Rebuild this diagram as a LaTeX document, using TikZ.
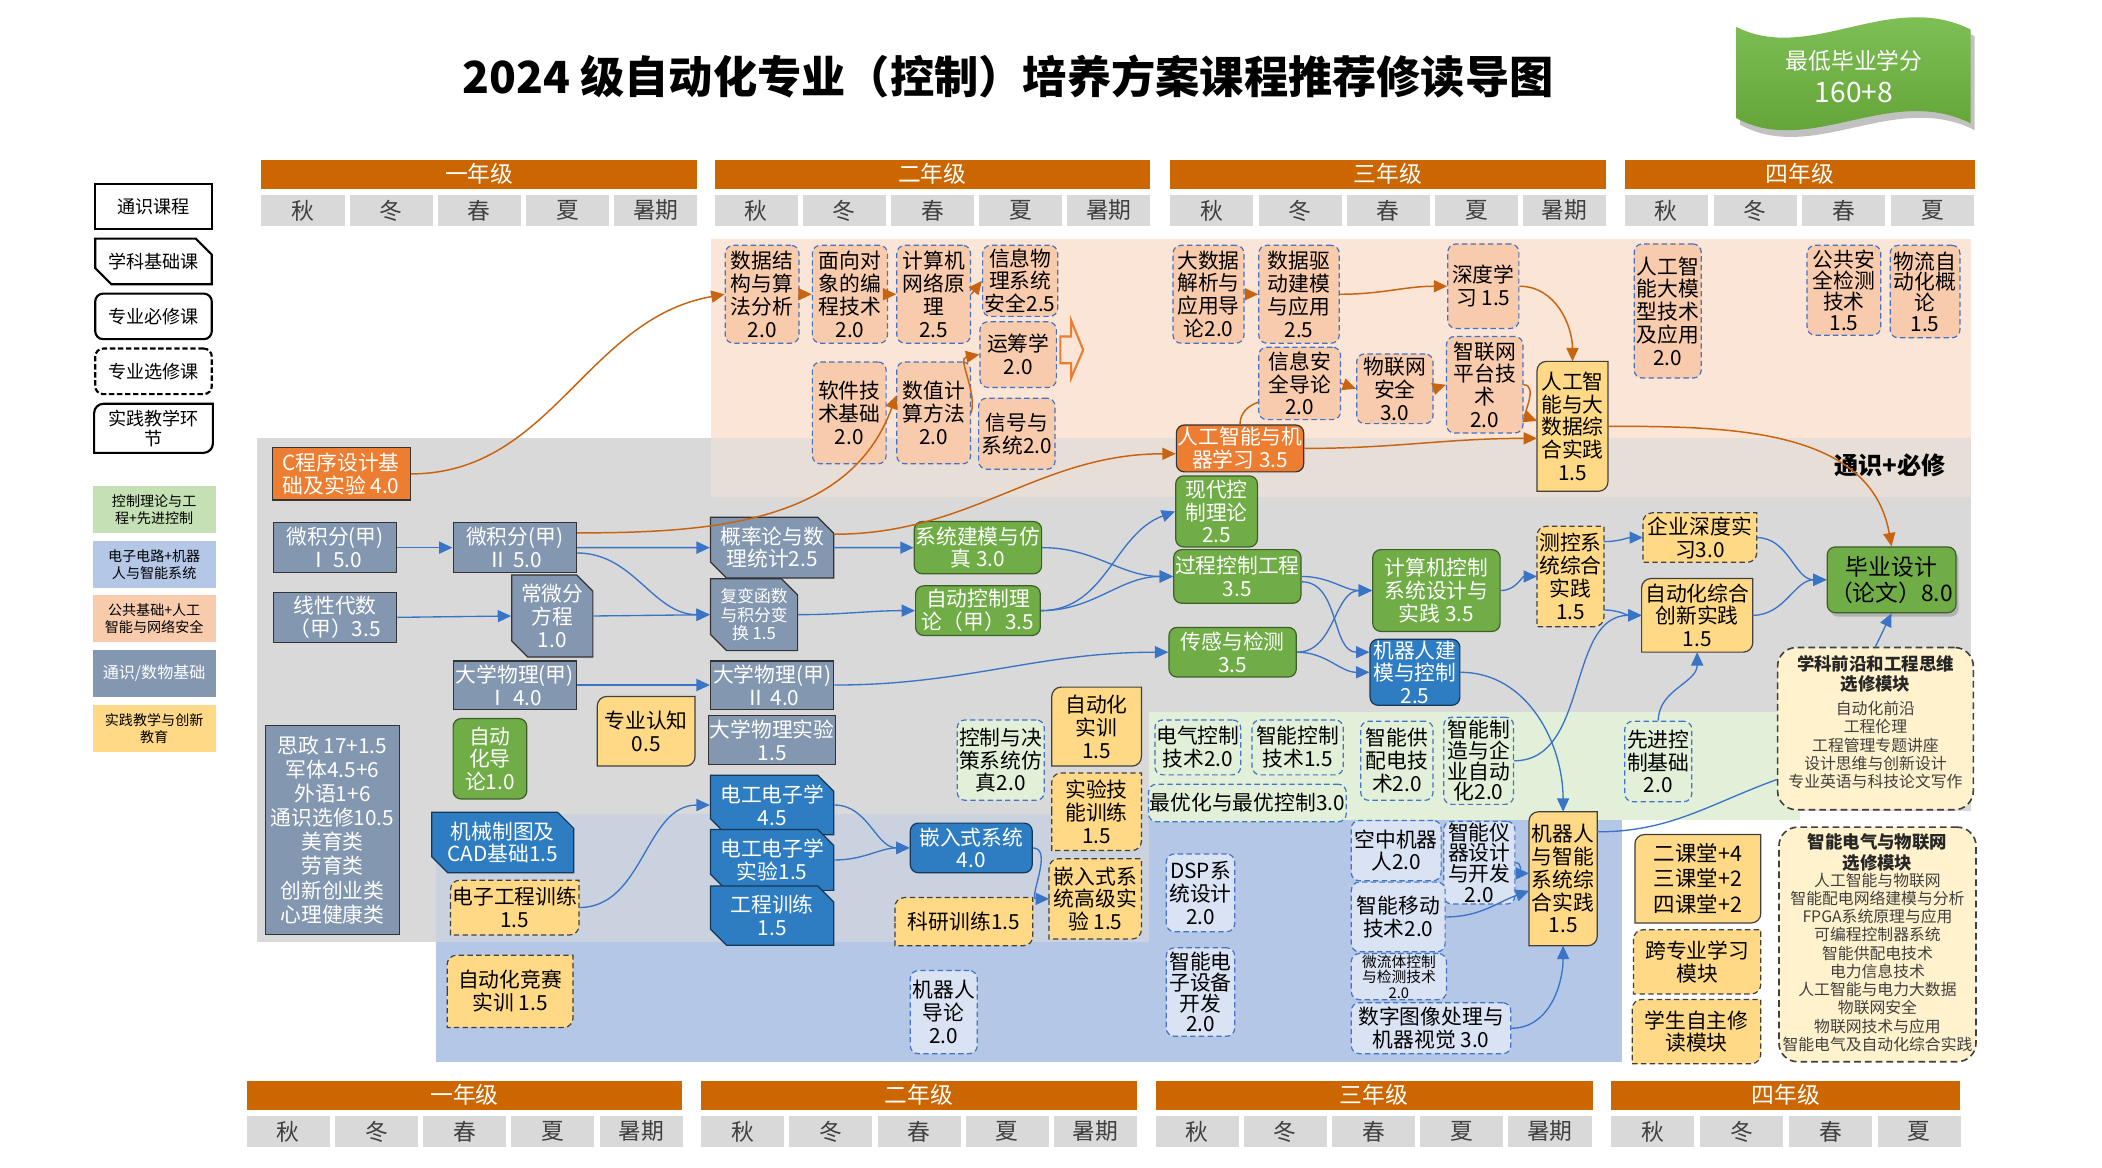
\documentclass[tikz,border=0pt]{standalone}
\usepackage{fontspec}
\setmainfont{Noto Sans CJK SC}
\usetikzlibrary{arrows.meta,positioning,shapes.misc,shadows}
\definecolor{yearor}{HTML}{CC6600}
\definecolor{seasong}{HTML}{D9D9D9}
\definecolor{seasontx}{HTML}{404040}
\definecolor{bandgray}{HTML}{D9D9D9}
\definecolor{bandpeach}{HTML}{FBE5D6}
\definecolor{bandgreen}{HTML}{E2F0D9}
\definecolor{bandblue}{HTML}{B4C7E7}
\definecolor{tsfill}{HTML}{8497B0}
\definecolor{orfill}{HTML}{ED7D31}
\definecolor{grfill}{HTML}{70AD47}
\definecolor{blfill}{HTML}{2E7DC2}
\definecolor{pkfill}{HTML}{F8CBAD}
\definecolor{lbfill}{HTML}{DAE3F3}
\definecolor{lgfill}{HTML}{E2F0D9}
\definecolor{ylfill}{HTML}{FFD985}
\definecolor{crfill}{HTML}{FFF2CC}
\definecolor{dashbl}{HTML}{4472C4}
\definecolor{arrbl}{HTML}{3A74C6}
\definecolor{arror}{HTML}{C8640F}
\definecolor{lgleg}{HTML}{C5E0B4}
\definecolor{banhi}{HTML}{84C55C}
\definecolor{banlo}{HTML}{5E9E32}
\newcommand{\crsfont}{\fontsize{15.5}{17}\selectfont}
\newcommand{\smfont}{\fontsize{12.5}{14}\selectfont}
\newcommand{\modfont}{\fontsize{11.8}{13.6}\selectfont}
% outline with rounded top-left and bottom-right corners
\newcommand{\sjshape}[2][]{%
  \draw[#1] (#2.west) [rounded corners=7pt] -- (#2.north west) -- (#2.north)
    [sharp corners] -- (#2.north east) -- (#2.east)
    [rounded corners=7pt] -- (#2.south east) -- (#2.south)
    [sharp corners] -- (#2.south west) -- cycle;}
\pgfdeclarelayer{bg}
\pgfdeclarelayer{mid}
\pgfsetlayers{bg,mid,main}
\tikzset{
  cbase/.style={align=center,inner sep=1pt,font=\crsfont,line width=0.9pt},
  tsbox/.style={cbase,draw=black!80,fill=tsfill,text=white},
  jcbox/.style={tsbox,chamfered rectangle,chamfered rectangle corners={north east,south west},
    chamfered rectangle xsep=6pt,chamfered rectangle ysep=6pt},
  bjcbox/.style={jcbox,fill=blfill,draw=blfill!45!black},
  orbox/.style={cbase,draw=black!80,fill=orfill,text=white},
  grbox/.style={cbase,rounded corners=6pt,draw=grfill!55!black,fill=grfill,text=white},
  blbox/.style={grbox,draw=blfill!45!black,fill=blfill},
  xxbox/.style={cbase,rounded corners=6pt,draw=dashbl,dash pattern=on 4pt off 2.5pt,fill=pkfill},
  xxg/.style={xxbox,fill=lgfill},
  xxb/.style={xxbox,fill=lbfill},
  tight/.style={font=\fontsize{15.5}{15.5}\selectfont},
  sjbox/.style={cbase,text=black},
  sjline/.style={draw=black!75,fill=ylfill,line width=0.9pt},
  sjdash/.style={sjline,dash pattern=on 4pt off 2.5pt},
  modbox/.style={draw=black!75,dash pattern=on 5pt off 3pt,fill=crfill,rounded corners=14pt,line width=1.2pt},
  modtitle/.style={align=center,inner sep=0pt,font=\fontsize{13}{15.5}\selectfont\bfseries,text=black!85},
  modlist/.style={align=center,inner sep=0pt,font=\modfont,text=seasontx},
  yearbar/.style={fill=yearor,text=white,font=\fontsize{17}{17}\selectfont,minimum height=22,inner sep=0pt},
  season/.style={fill=seasong,text=seasontx,font=\fontsize{17}{17}\selectfont,minimum width=62,minimum height=23,inner sep=0pt},
  lgbox/.style={align=center,font=\fontsize{13.5}{14.5}\selectfont,minimum width=87,minimum height=34,inner sep=1pt,line width=1.6pt},
  lgc/.style={align=center,font=\fontsize{10.5}{12.5}\selectfont,minimum width=92,minimum height=35,inner sep=1pt},
  orarr/.style={-{Triangle[length=10pt,width=9pt]},draw=arror,line width=1.1pt},
  blarr/.style={-{Triangle[length=10pt,width=9pt]},draw=arrbl,line width=1pt},
  blline/.style={draw=arrbl,line width=1pt},
}

\begin{document}
\begin{tikzpicture}[x=1pt,y=1pt]
\useasboundingbox (0,0) rectangle (1568,-871);
\begin{pgfonlayer}{bg}
\fill[white] (0,0) rectangle (1568,-871);
\fill[bandpeach] (530,-178) rectangle (1470,-327);
\fill[bandgray] (192,-327) rectangle (1470,-531);
\fill[bandgray] (192,-531) rectangle (857,-703);
\fill[bandgray] (1343,-531) rectangle (1470,-605);
\fill[bandpeach!45!bandgray] (530,-327) rectangle (1470,-371);
\fill[bandgreen] (857,-531) rectangle (1343,-612);
\fill[bandblue] (857,-612) rectangle (1210,-792);
\fill[bandblue] (325,-703) rectangle (857,-792);
\fill[bandblue!40!bandgray] (325,-607) rectangle (857,-703);
\end{pgfonlayer}

% title and credit banner
\node[font=\fontsize{33}{36}\selectfont\bfseries] (title) at (752,-57) {2024 级自动化专业（控制）培养方案课程推荐修读导图};
\fill[black!40,opacity=0.6,shift={(3,-5)}] (1295,-20) .. controls (1350,-48) and (1410,8) .. (1470,-22)
  -- (1470,-92) .. controls (1410,-62) and (1350,-118) .. (1295,-88) -- cycle;
\shade[top color=banhi,bottom color=banlo] (1295,-20) .. controls (1350,-48) and (1410,8) .. (1470,-22)
  -- (1470,-92) .. controls (1410,-62) and (1350,-118) .. (1295,-88) -- cycle;
\node[text=white,font=\fontsize{17}{20}\selectfont] (ban1) at (1383,-45) {最低毕业学分};
\node[text=white,font=\fontsize{21}{24}\selectfont] (ban2) at (1383,-69) {160+8};

% year headers, top and bottom
\foreach \yx/\yw/\yt/\k in {195/325/一年级/1,533/325/二年级/2,873/325/三年级/3,1212/261/四年级/4,
    184/325/一年级/5,523/325/二年级/6,862/326/三年级/7,1202/260/四年级/8} {
  \ifnum\k<5 \def\yy{-130}\else\def\yy{-817}\fi
  \node[yearbar,minimum width=\yw] (yr\k) at (\yx+\yw/2,\yy) {\yt};
}
\foreach \yx/\yy/\k in {195/-157/1,533/-157/2,873/-157/3,184/-844/5,523/-844/6,862/-844/7}
  \foreach \s [count=\j from 0] in {秋,冬,春,夏,暑期}
    \node[season] (ss\k\j) at (\yx+31+\j*65.8,\yy) {\s};
\foreach \yx/\yy/\k in {1212/-157/4,1202/-844/8}
  \foreach \s [count=\j from 0] in {秋,冬,春,夏}
    \node[season] (ss\k\j) at (\yx+31+\j*66.2,\yy) {\s};

% legend
\node[lgbox,draw,fill=white] (lg1) at (114.5,-154) {通识课程};
\node[lgbox,draw,fill=white,chamfered rectangle,chamfered rectangle corners={north east,south west},
  chamfered rectangle xsep=6pt,chamfered rectangle ysep=6pt] (lg2) at (114.5,-195) {学科基础课};
\node[lgbox,draw,fill=white,rounded corners=6pt] (lg3) at (114.5,-236) {专业必修课};
\node[lgbox,draw,fill=white,rounded corners=6pt,dash pattern=on 4pt off 2pt] (lg4) at (114.5,-277) {专业选修课};
\node[lgbox,minimum height=35] (lg5) at (114.5,-319.5) {实践教学环\\节};
\node[lgc,fill=lgleg] (lc1) at (115,-380) {控制理论与工\\程+先进控制};
\node[lgc,fill=bandblue] (lc2) at (115,-421) {电子电路+机器\\人与智能系统};
\node[lgc,fill=pkfill] (lc3) at (115,-461.5) {公共基础+人工\\智能与网络安全};
\node[lgc,fill=tsfill,text=white,font=\fontsize{12}{13}\selectfont] (lc4) at (115,-502.5) {通识/数物基础};
\node[lgc,fill=ylfill] (lc5) at (115,-543.5) {实践教学与创新\\教育};
\node[font=\fontsize{18}{20}\selectfont\bfseries] (tbx) at (1410,-347) {通识+必修};

% first year
\node[orbox,minimum width=103,minimum height=39] (cpro) at (254.5,-353.5) {C程序设计基\\础及实验 4.0};
\node[tsbox,minimum width=92,minimum height=37] (wjf1) at (250,-408.5) {微积分(甲)\\Ⅰ 5.0};
\node[tsbox,minimum width=92,minimum height=37] (wjf2) at (384,-408.5) {微积分(甲)\\Ⅱ 5.0};
\node[tsbox,minimum width=92,minimum height=37] (xxds) at (250,-460.5) {线性代数\\（甲）3.5};
\node[jcbox,minimum width=52,minimum height=51] (cwf) at (412,-459.5) {常微分\\方程\\1.0};
\node[tsbox,minimum width=92,minimum height=36] (dxwl1) at (384,-511) {大学物理(甲)\\Ⅰ 4.0};
\node[grbox,minimum width=55,minimum height=60] (zdhdl) at (365.5,-566) {自动\\化导\\论1.0};
\node[sjbox,minimum width=72,minimum height=51] (zyrz) at (482,-545.5) {专业认知\\0.5};
\node[tsbox,minimum width=100,minimum height=156,font=\fontsize{15.5}{18}\selectfont] (sz) at (248,-619)
  {思政 17+1.5\\军体4.5+6\\外语1+6\\通识选修10.5\\美育类\\劳育类\\创新创业类\\心理健康类};
\node[bjcbox,minimum width=106,minimum height=39] (jxzt) at (375,-628.5) {机械制图及\\CAD基础1.5};
\node[sjbox,minimum width=92,minimum height=40] (dzgc) at (384,-677) {电子工程训练\\1.5};
\node[sjbox,minimum width=93,minimum height=53] (zdhjs) at (380.5,-739.5) {自动化竞赛\\实训 1.5};

% second year
\node[xxbox,minimum width=55,minimum height=73] (sjjg) at (568.5,-219.5) {数据结\\构与算\\法分析\\2.0};
\node[xxbox,minimum width=56,minimum height=73] (mxdx) at (634,-219.5) {面向对\\象的编\\程技术\\2.0};
\node[xxbox,minimum width=55,minimum height=73] (jsjwl) at (696.5,-219.5) {计算机\\网络原\\理\\2.5};
\node[xxbox,minimum width=56,minimum height=53] (xxwl) at (761,-209.5) {信息物\\理系统\\安全2.5};
\node[xxbox,minimum width=57,minimum height=49] (ycx) at (759.5,-264.5) {运筹学\\2.0};
\node[xxbox,minimum width=55,minimum height=76] (rjjs) at (633.5,-308) {软件技\\术基础\\2.0};
\node[xxbox,minimum width=55,minimum height=76] (szjs) at (696.5,-308) {数值计\\算方法\\2.0};
\node[xxbox,minimum width=57,minimum height=53] (xhxt) at (758.5,-323.5) {信号与\\系统2.0};
\draw[draw=orfill,line width=1.6pt,fill=bandpeach] (791,-251) -- (799,-251) -- (799,-239) -- (808,-261)
  -- (799,-282) -- (799,-271) -- (791,-271) -- cycle;
\node[jcbox,minimum width=92,minimum height=37] (gl) at (576,-408.5) {概率论与数\\理统计2.5};
\node[jcbox,minimum width=65,minimum height=51,font=\smfont] (fb) at (562.5,-458.5) {复变函数\\与积分变\\换 1.5};
\node[tsbox,minimum width=92,minimum height=36] (dxwl2) at (576,-511) {大学物理(甲)\\Ⅱ 4.0};
\node[tsbox,minimum width=92,minimum height=36] (dxsy) at (576,-552) {大学物理实验\\1.5};
\node[bjcbox,minimum width=92,minimum height=37] (dgdz) at (576,-600.5) {电工电子学\\4.5};
\node[bjcbox,minimum width=92,minimum height=37] (dgsy) at (576,-641.5) {电工电子学\\实验1.5};
\node[bjcbox,minimum width=92,minimum height=36] (gcxl) at (576,-683) {工程训练\\1.5};
\node[grbox,minimum width=93,minimum height=39] (xtjm) at (729.5,-408.5) {系统建模与仿\\真 3.0};
\node[grbox,minimum width=93,minimum height=37] (zdkz) at (729.5,-455.5) {自动控制理\\论（甲）3.5};
\node[xxg,minimum width=65,minimum height=60] (kzjc) at (746.5,-567) {控制与决\\策系统仿\\真2.0};
\node[sjbox,minimum width=66,minimum height=58] (zdhsx) at (818,-542) {自动化\\实训\\1.5};
\node[sjbox,minimum width=66,minimum height=57] (syjn) at (818,-605.5) {实验技\\能训练\\1.5};
\node[blbox,minimum width=91,minimum height=37] (qrs) at (724.5,-632.5) {嵌入式系统\\4.0};
\node[sjbox,minimum width=68,minimum height=59] (qrsg) at (817,-670.5) {嵌入式系\\统高级实\\验 1.5};
\node[sjbox,minimum width=102,minimum height=35] (kyxl) at (719,-687.5) {科研训练1.5};
\node[xxb,minimum width=50,minimum height=62] (jqrdl) at (704,-755) {机器人\\导论\\2.0};

% third year
\node[xxbox,minimum width=53,minimum height=73] (dsj) at (901.5,-219.5) {大数据\\解析与\\应用导\\论2.0};
\node[xxbox,minimum width=60,minimum height=73] (sjqd) at (969,-219.5) {数据驱\\动建模\\与应用\\2.5};
\node[xxbox,minimum width=61,minimum height=54] (xxaq) at (969.5,-286) {信息安\\全导论\\2.0};
\node[xxbox,minimum width=57,minimum height=52] (wlwaq) at (1040.5,-290) {物联网\\安全\\3.0};
\node[xxbox,minimum width=53,minimum height=63] (sdxx) at (1106.5,-213.5) {深度学\\习 1.5};
\node[xxbox,minimum width=57,minimum height=72] (zlw) at (1107.5,-287) {智联网\\平台技\\术\\2.0};
\node[orbox,rounded corners=6pt,minimum width=92,minimum height=35] (rgzn) at (925,-334.5) {人工智能与机\\器学习 3.5};
\node[grbox,minimum width=61,minimum height=53] (xdkz) at (907.5,-381.5) {现代控\\制理论\\2.5};
\node[grbox,minimum width=94,minimum height=40] (gckz) at (923,-430) {过程控制工程\\3.5};
\node[grbox,minimum width=95,minimum height=37] (cgjc) at (919.5,-486.5) {传感与检测\\3.5};
\node[grbox,minimum width=95,minimum height=61] (jsjkz) at (1071.5,-440.5) {计算机控制\\系统设计与\\实践 3.5};
\node[blbox,minimum width=67,minimum height=47] (jqrjm) at (1055.5,-501.5) {机器人建\\模与控制\\2.5};
\node[sjbox,minimum width=52,minimum height=96] (rgsj) at (1173,-318) {人工智\\能与大\\数据综\\合实践\\1.5};
\node[sjbox,minimum width=49,minimum height=74] (ckxt) at (1171.5,-430) {测控系\\统综合\\实践\\1.5};
\node[xxg,minimum width=63,minimum height=41] (dqkz) at (893.5,-557.5) {电气控制\\技术2.0};
\node[xxg,minimum width=68,minimum height=41] (znkz) at (968,-557.5) {智能控制\\技术1.5};
\node[xxg,minimum width=147,minimum height=28] (zyh) at (930.5,-599) {最优化与最优控制3.0};
\node[xxg,minimum width=54,minimum height=59] (zngp) at (1042,-567.5) {智能供\\配电技\\术2.0};
\node[xxg,minimum width=52,minimum height=65,tight] (znzz) at (1103,-567.5) {智能制\\造与企\\业自动\\化2.0};
\node[xxg,minimum width=50,minimum height=60] (xjkz) at (1237,-568) {先进控\\制基础\\2.0};
\node[sjbox,minimum width=50,minimum height=99] (jqrzh) at (1166,-655.5) {机器人\\与智能\\系统综\\合实践\\1.5};
\node[xxb,minimum width=51,minimum height=58] (dsp) at (895.5,-666) {DSP系\\统设计\\2.0};
\node[xxb,minimum width=51,minimum height=66,tight] (zndz) at (895.5,-740) {智能电\\子设备\\开发\\2.0};
\node[xxb,minimum width=67,minimum height=45] (kzjqr) at (1041.5,-634.5) {空中机器\\人2.0};
\node[xxb,minimum width=53,minimum height=61,tight] (znyq) at (1103.5,-643.5) {智能仪\\器设计\\与开发\\2.0};
\node[xxb,minimum width=70,minimum height=52] (znyd) at (1043,-684) {智能移动\\技术2.0};
\node[xxb,minimum width=71,minimum height=33,font=\fontsize{11}{11.5}\selectfont] (wlt) at (1043.5,-728.5) {微流体控制\\与检测技术\\2.0};
\node[xxb,minimum width=119,minimum height=38] (szxx) at (1067.5,-767) {数字图像处理与\\机器视觉 3.0};

% fourth year
\node[xxbox,minimum width=50,minimum height=100] (dmx) at (1244,-232) {人工智\\能大模\\型技术\\及应用\\2.0};
\node[xxbox,minimum width=55,minimum height=67,tight] (ggaq) at (1375.5,-216.5) {公共安\\全检测\\技术\\1.5};
\node[xxbox,minimum width=52,minimum height=69,tight] (wlzd) at (1436,-217.5) {物流自\\动化概\\论\\1.5};
\node[sjbox,minimum width=84,minimum height=36] (qysx) at (1268,-401) {企业深度实\\习3.0};
\node[sjbox,minimum width=82,minimum height=54] (zdhcx) at (1266,-459) {自动化综合\\创新实践\\1.5};
\node[grbox,text=black,minimum width=96,minimum height=49,font=\fontsize{17}{19.5}\selectfont,
  drop shadow={shadow xshift=2pt,shadow yshift=-3pt,fill=black!45}] (bysj) at (1411,-432.5) {毕业设计\\（论文）8.0};
\node[modbox,minimum width=146,minimum height=121] (mod1) at (1399,-543.5) {};
\node[modtitle,below=6pt of mod1.north] (mod1t) {学科前沿和工程思维\\选修模块};
\node[modlist,below=6pt of mod1t] (mod1l) {自动化前沿\\工程伦理\\工程管理专题讲座\\设计思维与创新设计\\专业英语与科技论文写作};
\node[modbox,minimum width=147,minimum height=175] (mod2) at (1400.5,-704.5) {};
\node[modtitle,below=5pt of mod2.north] (mod2t) {智能电气与物联网\\选修模块};
\node[modlist,below=1pt of mod2t] (mod2l) {人工智能与物联网\\智能配电网络建模与分析\\FPGA系统原理与应用\\可编程控制器系统\\智能供配电技术\\电力信息技术\\人工智能与电力大数据\\物联网安全\\物联网技术与应用\\智能电气及自动化综合实践};
\node[sjbox,minimum width=93,minimum height=65,font=\fontsize{16}{19}\selectfont] (kt) at (1266.5,-655.5) {二课堂+4\\三课堂+2\\四课堂+2};
\node[sjbox,minimum width=94,minimum height=47] (kzy) at (1266,-717.5) {跨专业学习\\模块};
\node[sjbox,minimum width=95,minimum height=47] (xszz) at (1265.5,-769.5) {学生自主修\\读模块};

% practice outlines
\begin{pgfonlayer}{mid}
\foreach \n in {zyrz,zdhsx,rgsj,jqrzh,zdhcx,kt} \sjshape[sjline]{\n};
\foreach \n in {dzgc,zdhjs,syjn,qrsg,kyxl,ckxt,qysx,kzy,xszz} \sjshape[sjdash]{\n};
\sjshape[draw=black,line width=1.6pt,fill=white]{lg5};
\end{pgfonlayer}

% orange links
\draw[orarr] (cpro.east) to[out=0,in=190] (sjjg.west);
\draw[orarr] (sjjg) -- (mxdx);
\draw[orarr] (mxdx) -- (jsjwl);
\draw[orarr] (jsjwl.east) -- (xxwl.west);
\draw[orarr] (szjs.east) to[out=75,in=190] (ycx.west);
\draw[orarr] ([yshift=11pt]wjf2.east) to[out=0,in=250] ([yshift=13pt]szjs.west);
\draw[orarr] ([yshift=10pt]gl.east) to[out=0,in=180] ([yshift=-4pt]rgzn.west);
\draw[orarr] (dsj) -- (sjqd);
\draw[orarr] (sjqd.east) to[out=0,in=180] (sdxx.west);
\draw[orarr] (sdxx.east) to[out=0,in=90] (rgsj.north);
\draw[orarr] (xxaq.east) -- (wlwaq.west);
\draw[orarr] (wlwaq.east) -- (zlw.west);
\draw[orarr] (zlw.east) to[out=0,in=160] ([yshift=4pt]rgsj.west);
\draw[orarr] (rgzn.east) to[out=0,in=180] ([yshift=-9pt]rgsj.west);
\draw[draw=arror,line width=1.1pt] (rgzn.north) to[out=90,in=200] ([yshift=-14pt]xxaq.west);
\draw[orarr] (rgsj.east) to[out=0,in=100] (bysj.north);

% blue links
\draw[blarr] (wjf1) -- (wjf2);
\draw[blarr] (wjf2) -- (gl);
\draw[blarr] ([yshift=-4pt]wjf2.east) to[out=0,in=180] (fb.west);
\draw[blarr] (xxds.east) -- (cwf.west);
\draw[blarr] (cwf.east) -- (fb.west);
\draw[blarr] (dxwl1) -- (dxwl2);
\draw[blarr] (dzgc.east) to[out=0,in=180] (dgdz.west);
\draw[blarr] (gl) -- (xtjm);
\draw[blarr] (fb.east) to[out=0,in=180] (zdkz.west);
\draw[blarr] (dgdz.east) to[out=0,in=180] (qrs.west);
\draw[blarr] (dgsy.east) to[out=0,in=180] (qrs.west);
\draw[blarr] (qrs.east) to[out=0,in=180] (qrsg.west);
\draw[blarr] (dxwl2.east) to[out=0,in=180] (cgjc.west);
\draw[blarr] (xtjm.east) to[out=0,in=180] (gckz.west);
\draw[blarr] (zdkz.east) to[out=0,in=180] (gckz.west);
\draw[blarr] (zdkz.east) to[out=0,in=200] (xdkz.west);
\draw[blarr] (gckz.east) to[out=0,in=180] (jsjkz.west);
\draw[blarr] ([yshift=-4pt]gckz.east) to[out=0,in=180] ([yshift=15pt]jqrjm.west);
\draw[blarr] (cgjc.east) to[out=0,in=180] (jsjkz.west);
\draw[blarr] (cgjc.east) to[out=0,in=180] (jqrjm.west);
\draw[blarr] (jsjkz.east) to[out=0,in=180] (ckxt.west);
\draw[blarr] ([yshift=26pt]ckxt.east) to[out=0,in=180] (qysx.west);
\draw[blarr] ([yshift=-25pt]ckxt.east) to[out=0,in=180] (zdhcx.west);
\draw[blarr] (qysx.east) to[out=0,in=180] (bysj.west);
\draw[blarr] (zdhcx.east) to[out=0,in=180] (bysj.west);
\draw[blarr] (mod1.north) -- (bysj.south);
\draw[blarr] (xjkz.north) to[out=90,in=-90] (zdhcx.south);
\draw[blarr] (znzz.east) to[out=0,in=180] (zdhcx.west);
\draw[blarr] (jqrjm.east) to[out=0,in=90] (jqrzh.north);
\draw[blarr] (znyq.east) to[out=0,in=180] ([yshift=4pt]jqrzh.west);
\draw[blarr] (znyd.east) to[out=0,in=200] ([yshift=-9pt]jqrzh.west);
\draw[blline] ([yshift=35pt]jqrzh.east) to[out=0,in=200] ([yshift=-38pt]mod1.west);
\draw[blarr] (szxx.east) to[out=0,in=-90] (jqrzh.south);
\end{tikzpicture}
\end{document}
